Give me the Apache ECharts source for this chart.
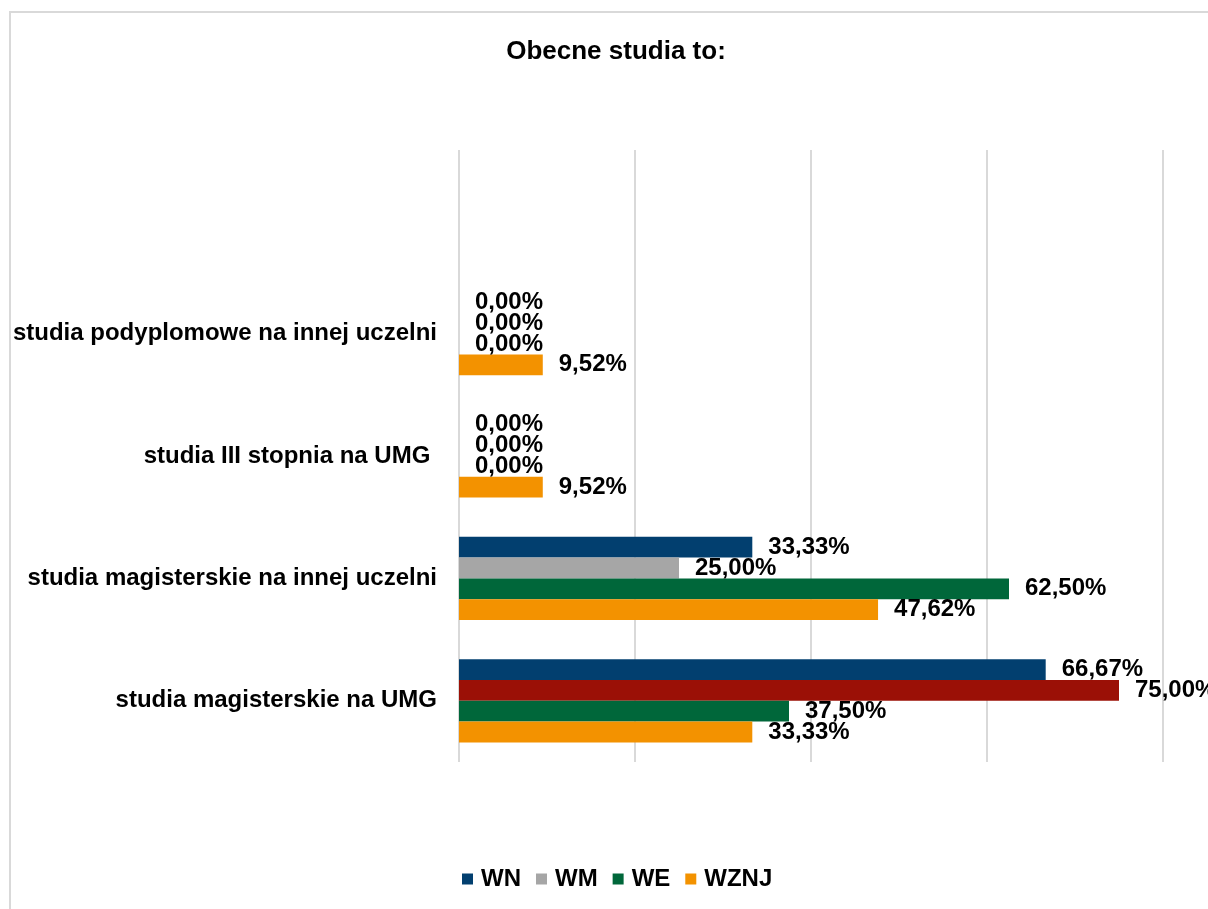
<!DOCTYPE html>
<html>
<head>
<meta charset="utf-8">
<script src="https://cdn.jsdelivr.net/npm/echarts@6/dist/echarts.min.js"></script>
<style>
  html, body { margin: 0; padding: 0; background: #fff; }
  #frame {
    position: absolute; left: 9px; top: 11px; width: 1210px; height: 910px;
    border: 2px solid #d9d9d9; box-sizing: border-box;
  }
  #chart { position: absolute; left: 0; top: 0; width: 1208px; height: 909px; }
</style>
</head>
<body>
<div id="frame"></div>
<div id="chart"></div>
<script>
// categories listed bottom to top; the top slot is empty in the original
const categories = [
  "studia magisterskie na UMG",
  "studia magisterskie na innej uczelni",
  "studia III stopnia na UMG ",
  "studia podyplomowe na innej uczelni",
  "",
];
const legendNames = ["WN", "WM", "WE", "WZNJ"];
const wnValues = [66.67, 33.33, 0, 0, null];
const wmValues = [75.0, 25.0, 0, 0, null];
const weValues = [37.5, 62.5, 0, 0, null];
const wznjValues = [33.33, 47.62, 9.52, 9.52, null];

const colors = {
  WN: "#023f6f",
  WM: "#a6a6a6",
  WE: "#00673a",
  WZNJ: "#f39200",
};
const wmHighlight = "#9b1006"; // WM bar for "studia magisterskie na UMG"

const font = "'Liberation Sans', Arial, sans-serif";

function fmt(p) {
  return p.value.toFixed(2).replace(".", ",") + "%";
}

function makeSeries(name, values, itemColor) {
  return {
    name: name,
    type: "bar",
    data: values.map((v, i) => {
      if (itemColor && itemColor[i]) {
        return { value: v, itemStyle: { color: itemColor[i] } };
      }
      return v;
    }),
    itemStyle: { color: colors[name] },
    barGap: "0%",
    barCategoryGap: "32%",
    label: {
      show: true,
      position: "right",
      distance: 16,
      formatter: fmt,
      color: "#000",
      fontFamily: font,
      fontWeight: "bold",
      fontSize: 24,
    },
  };
}

const option = {
  animation: false,
  textStyle: { fontFamily: font },
  title: {
    text: "Obecne studia to:",
    left: 611,
    top: 34,
    textAlign: "center",
    textStyle: { fontFamily: font, fontWeight: "bold", fontSize: 26, color: "#000" },
  },
  legend: {
    data: legendNames,
    bottom: 13,
    left: 457,
    itemWidth: 11,
    itemHeight: 11,
    itemGap: 15,
    icon: "rect",
    textStyle: { fontFamily: font, fontWeight: "bold", fontSize: 24, color: "#000", padding: [0, 0, 0, 3] },
  },
  grid: { left: 459, right: 45, top: 150, bottom: 147, containLabel: false },
  xAxis: {
    type: "value",
    min: 0,
    max: 80,
    interval: 20,
    axisLabel: { show: false },
    axisLine: { show: false },
    axisTick: { show: false },
    splitLine: { lineStyle: { color: "#d9d9d9", width: 2 } },
  },
  yAxis: {
    type: "category",
    data: categories,
    axisLine: { show: false },
    axisTick: { show: false },
    axisLabel: {
      margin: 22,
      color: "#000",
      fontFamily: font,
      fontWeight: "bold",
      fontSize: 24,
    },
  },
  series: [
    makeSeries("WN", wnValues),
    makeSeries("WM", wmValues, [wmHighlight]),
    makeSeries("WE", weValues),
    makeSeries("WZNJ", wznjValues),
  ],
};

echarts.init(document.getElementById("chart")).setOption(option);
</script>
</body>
</html>
